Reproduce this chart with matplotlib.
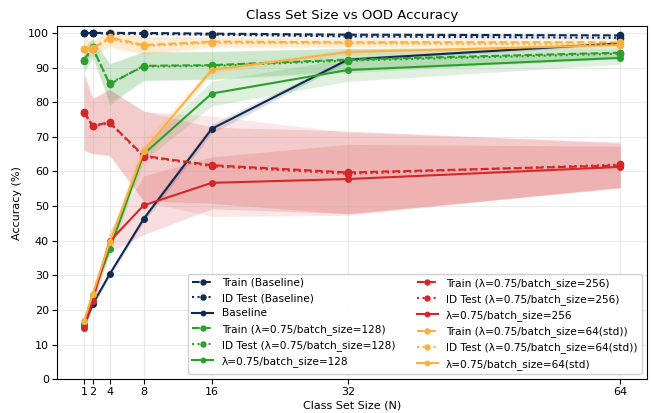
# Class set size vs OOD accuracy, mean +- std over runs

import numpy as np
import matplotlib.pyplot as plt

# DATA
class_sizes = [1, 2, 4, 8, 16, 32, 64]

# baseline
base_train = [100.0, 100.0, 100.0, 100.0, 99.8, 99.5, 99.3]
base_train_std = [0.0, 0.0, 0.0, 0.0, 0.1, 0.2, 0.2]
base_id = [99.9, 99.9, 99.8, 99.7, 99.5, 99.0, 98.6]
base_id_std = [0.1, 0.1, 0.1, 0.2, 0.2, 0.3, 0.3]
base_ood = [15.5, 21.6, 30.3, 46.3, 72.3, 92.3, 97.0]
base_ood_std = [0.8, 0.8, 0.8, 1.0, 1.3, 0.6, 0.4]

# lambda=0.75 / batch 128
g_train = [92.3, 95.8, 85.2, 90.5, 90.7, 92.3, 94.3]
g_train_std = [3.5, 2.5, 6.0, 4.2, 4.0, 3.3, 1.5]
g_id = [92.0, 95.5, 85.5, 90.3, 90.5, 92.0, 94.0]
g_id_std = [3.5, 3.0, 5.5, 4.0, 4.0, 3.5, 1.5]
g_ood = [15.8, 24.2, 37.5, 65.0, 82.5, 89.3, 92.8]
g_ood_std = [1.0, 1.0, 1.5, 2.0, 3.6, 3.3, 1.8]

# lambda=0.75 / batch 256
r_train = [77.3, 73.2, 74.2, 64.5, 61.8, 59.7, 61.7]
r_train_std = [11.2, 8.0, 9.5, 13.0, 11.0, 12.0, 6.5]
r_id = [77.0, 73.0, 74.0, 64.3, 61.5, 59.3, 62.0]
r_id_std = [11.0, 8.0, 9.5, 13.0, 14.5, 12.0, 6.5]
r_ood = [14.8, 22.6, 39.8, 50.2, 56.7, 57.8, 61.3]
r_ood_std = [1.0, 2.0, 3.0, 8.5, 7.5, 10.0, 6.0]

# lambda=0.75 / batch 64 (std)
o_train = [95.5, 95.5, 98.7, 96.5, 97.5, 97.3, 97.3]
o_train_std = [3.0, 2.0, 2.5, 2.5, 1.5, 1.2, 1.0]
o_id = [95.3, 95.7, 98.2, 96.2, 97.1, 97.0, 96.6]
o_id_std = [3.0, 2.0, 2.5, 2.5, 1.5, 1.2, 1.0]
o_ood = [16.8, 24.5, 39.5, 66.0, 89.3, 94.5, 96.5]
o_ood_std = [1.0, 1.0, 2.0, 3.0, 1.0, 0.8, 0.6]

groups = [
    ('Baseline', '#112a52', base_train, base_train_std, base_id, base_id_std, base_ood, base_ood_std),
    ('λ=0.75/batch_size=128', '#2ca02c', g_train, g_train_std, g_id, g_id_std, g_ood, g_ood_std),
    ('λ=0.75/batch_size=256', '#d62728', r_train, r_train_std, r_id, r_id_std, r_ood, r_ood_std),
    ('λ=0.75/batch_size=64(std)', '#fbb040', o_train, o_train_std, o_id, o_id_std, o_ood, o_ood_std),
]

fig, ax = plt.subplots(figsize=(6.51, 4.13), dpi=100)
fig.subplots_adjust(left=0.088, right=0.994, bottom=0.082, top=0.937)

x = np.array(class_sizes)
for name, col, tr, tr_s, idt, id_s, ood, ood_s in groups:
    tag = '(Baseline)' if name == 'Baseline' else '(' + name + ')'
    tr, tr_s = np.array(tr), np.array(tr_s)
    idt, id_s = np.array(idt), np.array(id_s)
    ood, ood_s = np.array(ood), np.array(ood_s)
    ax.plot(x, tr, '--o', color=col, lw=1.5, ms=4.5, label='Train ' + tag)
    ax.fill_between(x, tr - tr_s, tr + tr_s, color=col, alpha=0.15, lw=0)
    ax.plot(x, idt, ':o', color=col, lw=1.5, ms=4.5, label='ID Test ' + tag)
    ax.fill_between(x, idt - id_s, idt + id_s, color=col, alpha=0.1, lw=0)
    ax.plot(x, ood, '-o', color=col, lw=1.5, ms=4, label=name)
    ax.fill_between(x, ood - ood_s, ood + ood_s, color=col, alpha=0.15, lw=0)

ax.set_xticks(class_sizes)
ax.set_yticks(np.arange(0, 101, 10))
ax.set_ylim(0, 102)
ax.grid(True, alpha=0.25)
ax.set_title('Class Set Size vs OOD Accuracy', fontsize=9.5, pad=5)
ax.set_xlabel('Class Set Size (N)', fontsize=8, labelpad=2)
ax.set_ylabel('Accuracy (%)', fontsize=8)
ax.tick_params(labelsize=8, pad=2.5)
ax.legend(loc='lower right', ncol=2, fontsize=7.6, framealpha=0.9,
          handlelength=2.0, columnspacing=2.0, labelspacing=0.5,
          markerscale=0.8)

plt.savefig('out.png')
